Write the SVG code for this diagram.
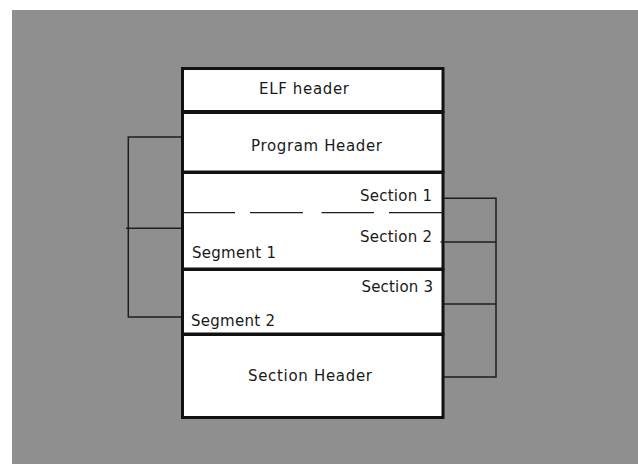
<svg xmlns="http://www.w3.org/2000/svg" width="638" height="464" viewBox="0 0 638 464">
  <style>
    .box { fill: #ffffff; stroke: #111111; stroke-width: 3; }
    .lbl { font-family: "DejaVu Sans", "Liberation Sans", sans-serif; font-size: 15px; fill: #1a1a1a; }
    .wire { stroke: #1e1e1e; stroke-width: 1.5; fill: none; }
  </style>

  <!-- page background -->
  <rect x="0" y="0" width="638" height="464" fill="#ffffff"/>
  <rect x="12" y="10" width="626" height="454" fill="#8f8f8f"/>

  <!-- ELF file layout -->
  <g id="elf-header">
    <rect class="box" x="182.5" y="68.5" width="260.5" height="43" stroke-width="3.5"/>
    <text class="lbl" x="259" y="93.5" textLength="90" lengthAdjust="spacing">ELF header</text>
  </g>

  <g id="program-header">
    <rect class="box" x="182.5" y="112.5" width="260.5" height="59.5"/>
    <text class="lbl" x="251" y="150.5" textLength="131" lengthAdjust="spacing">Program Header</text>
  </g>

  <g id="segment-1">
    <rect class="box" x="182.5" y="172.5" width="260.5" height="96.5"/>
    <text class="lbl" x="360" y="200.5" textLength="72" lengthAdjust="spacing">Section 1</text>
    <text class="lbl" x="360" y="241.5" textLength="72" lengthAdjust="spacing">Section 2</text>
    <text class="lbl" x="192" y="257.5" textLength="84" lengthAdjust="spacing">Segment 1</text>
    <!-- boundary between Section 1 and Section 2 -->
    <g stroke="#1e1e1e" stroke-width="1.3">
      <line x1="183" y1="212.7" x2="235" y2="212.7"/>
      <line x1="250" y1="212.7" x2="303" y2="212.7"/>
      <line x1="321.5" y1="212.7" x2="374" y2="212.7"/>
      <line x1="389" y1="212.7" x2="443" y2="212.7"/>
    </g>
  </g>

  <g id="segment-2">
    <rect class="box" x="182.5" y="269.5" width="260.5" height="64.5"/>
    <text class="lbl" x="361.5" y="292" textLength="71.5" lengthAdjust="spacing">Section 3</text>
    <text class="lbl" x="191" y="325.5" textLength="84" lengthAdjust="spacing">Segment 2</text>
  </g>

  <g id="section-header">
    <rect class="box" x="182.5" y="334.5" width="260.5" height="83"/>
    <text class="lbl" x="248" y="381" textLength="124" lengthAdjust="spacing">Section Header</text>
  </g>

  <!-- brackets -->
  <g id="connectors">
    <!-- program header entries -> segments -->
    <path class="wire" d="M181 137 H128.3 V317 H181"/>
    <line class="wire" x1="126" y1="228.3" x2="181" y2="228.3"/>
    <!-- section header entries -> sections -->
    <path class="wire" d="M444 198.3 H496 V377 H444"/>
    <line class="wire" x1="440.5" y1="242" x2="496" y2="242"/>
    <line class="wire" x1="444" y1="304" x2="496" y2="304"/>
  </g>
</svg>
